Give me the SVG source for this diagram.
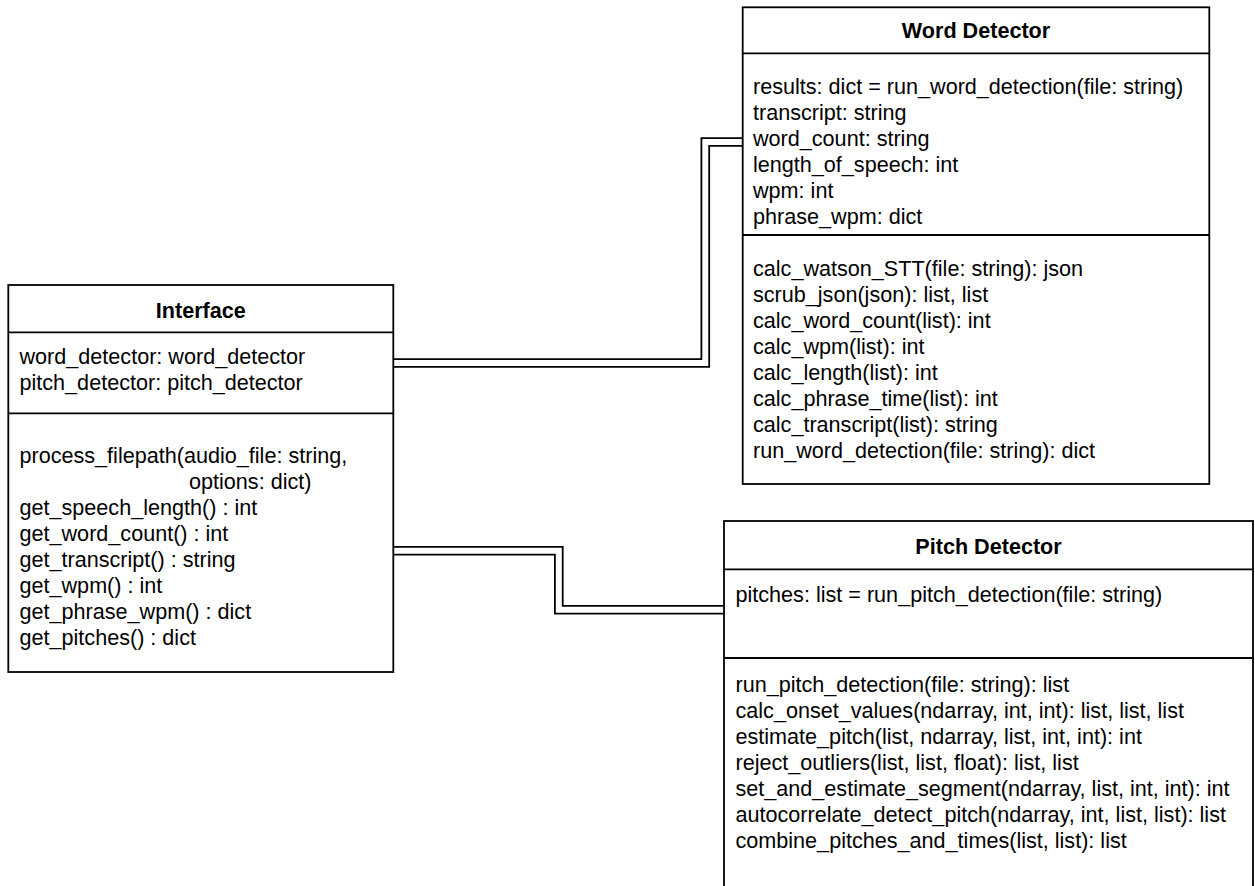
<svg xmlns="http://www.w3.org/2000/svg" width="1255" height="886" viewBox="0 0 1255 886">
  <style>
    .box { fill: #ffffff; stroke: #000000; stroke-width: 1.8; }
    .sep { stroke: #000000; stroke-width: 1.8; fill: none; }
    .title { font-family: "Liberation Sans", Arial, Helvetica, sans-serif; font-size: 21.6px; font-weight: bold; fill: #000000; text-anchor: middle; }
    .member { font-family: "Liberation Sans", Arial, Helvetica, sans-serif; font-size: 21.6px; fill: #000000; }
    .link-outer { fill: none; stroke: #000000; stroke-width: 9.6; stroke-linejoin: miter; }
    .link-inner { fill: none; stroke: #ffffff; stroke-width: 6; stroke-linejoin: miter; }
  </style>

  <rect width="1255" height="886" fill="#ffffff"/>

  <!-- Associations: double-line links -->
  <g id="connectors">
    <path class="link-outer" d="M393.3,363 H705.3 V142 H742.7"/>
    <path class="link-inner" d="M392,363 H705.3 V142 H744"/>
    <path class="link-outer" d="M393.3,550.7 H558.8 V609.7 H724"/>
    <path class="link-inner" d="M392,550.7 H558.8 V609.7 H725.5"/>
  </g>

  <!-- Interface class -->
  <g id="interface">
    <rect class="box" x="8.3" y="285" width="385" height="387"/>
    <line class="sep" x1="8.3" y1="332.3" x2="393.3" y2="332.3"/>
    <line class="sep" x1="8.3" y1="413.3" x2="393.3" y2="413.3"/>
    <text class="title" x="200.8" y="317.5">Interface</text>
    <text class="member" x="19.5" y="364">word_detector: word_detector</text>
    <text class="member" x="19.5" y="390">pitch_detector: pitch_detector</text>
    <text class="member" x="19.5" y="463">process_filepath(audio_file: string,</text>
    <text class="member" x="189" y="489">options: dict)</text>
    <text class="member" x="19.5" y="515">get_speech_length() : int</text>
    <text class="member" x="19.5" y="541">get_word_count() : int</text>
    <text class="member" x="19.5" y="567">get_transcript() : string</text>
    <text class="member" x="19.5" y="593">get_wpm() : int</text>
    <text class="member" x="19.5" y="619">get_phrase_wpm() : dict</text>
    <text class="member" x="19.5" y="645">get_pitches() : dict</text>
  </g>

  <!-- Word Detector class -->
  <g id="word-detector">
    <rect class="box" x="742.7" y="7.3" width="466.6" height="476.7"/>
    <line class="sep" x1="742.7" y1="53.3" x2="1209.3" y2="53.3"/>
    <line class="sep" x1="742.7" y1="235" x2="1209.3" y2="235"/>
    <text class="title" x="976" y="38.3">Word Detector</text>
    <text class="member" x="753" y="94.3">results: dict = run_word_detection(file: string)</text>
    <text class="member" x="753" y="120.2">transcript: string</text>
    <text class="member" x="753" y="146.1">word_count: string</text>
    <text class="member" x="753" y="172">length_of_speech: int</text>
    <text class="member" x="753" y="197.9">wpm: int</text>
    <text class="member" x="753" y="223.8">phrase_wpm: dict</text>
    <text class="member" x="753" y="276">calc_watson_STT(file: string): json</text>
    <text class="member" x="753" y="302">scrub_json(json): list, list</text>
    <text class="member" x="753" y="328">calc_word_count(list): int</text>
    <text class="member" x="753" y="354">calc_wpm(list): int</text>
    <text class="member" x="753" y="380">calc_length(list): int</text>
    <text class="member" x="753" y="406">calc_phrase_time(list): int</text>
    <text class="member" x="753" y="432">calc_transcript(list): string</text>
    <text class="member" x="753" y="458">run_word_detection(file: string): dict</text>
  </g>

  <!-- Pitch Detector class -->
  <g id="pitch-detector">
    <rect class="box" x="724" y="521" width="529" height="400"/>
    <line class="sep" x1="724" y1="569.3" x2="1253" y2="569.3"/>
    <line class="sep" x1="724" y1="658" x2="1253" y2="658"/>
    <text class="title" x="988.5" y="554">Pitch Detector</text>
    <text class="member" x="735.5" y="602">pitches: list = run_pitch_detection(file: string)</text>
    <text class="member" x="735.5" y="692">run_pitch_detection(file: string): list</text>
    <text class="member" x="735.5" y="718">calc_onset_values(ndarray, int, int): list, list, list</text>
    <text class="member" x="735.5" y="744">estimate_pitch(list, ndarray, list, int, int): int</text>
    <text class="member" x="735.5" y="770">reject_outliers(list, list, float): list, list</text>
    <text class="member" x="735.5" y="796">set_and_estimate_segment(ndarray, list, int, int): int</text>
    <text class="member" x="735.5" y="822">autocorrelate_detect_pitch(ndarray, int, list, list): list</text>
    <text class="member" x="735.5" y="848">combine_pitches_and_times(list, list): list</text>
  </g>
</svg>
